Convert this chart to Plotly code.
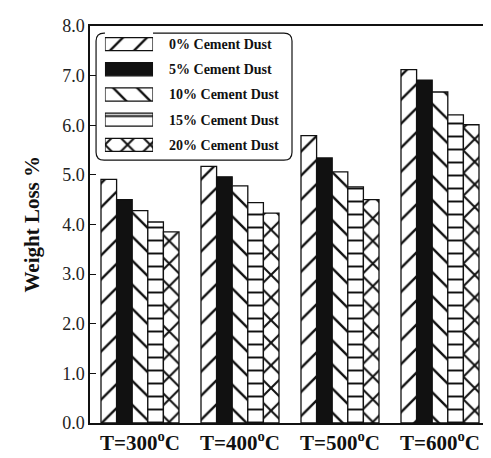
import plotly.graph_objects as go

categories = ["T=300<sup>o</sup>C", "T=400<sup>o</sup>C", "T=500<sup>o</sup>C", "T=600<sup>o</sup>C"]
series_names = ["0% Cement Dust", "5% Cement Dust", "10% Cement Dust", "15% Cement Dust", "20% Cement Dust"]
dust_0 = [4.91, 5.17, 5.79, 7.12]
dust_5 = [4.50, 4.96, 5.34, 6.91]
dust_10 = [4.28, 4.78, 5.06, 6.67]
dust_15 = [4.05, 4.44, 4.76, 6.21]
dust_20 = [3.85, 4.23, 4.50, 6.01]
y_ticks = [0, 1, 2, 3, 4, 5, 6, 7, 8]

series_values = [dust_0, dust_5, dust_10, dust_15, dust_20]
patterns = [
    dict(shape="/", size=17, solidity=0.14, fgcolor="#111", bgcolor="white", fgopacity=1),
    dict(shape="", fgcolor="#111", bgcolor="#111"),
    dict(shape="\\", size=17, solidity=0.14, fgcolor="#111", bgcolor="white", fgopacity=1),
    dict(shape="-", size=13, solidity=0.15, fgcolor="#111", bgcolor="white", fgopacity=1),
    dict(shape="x", size=16, solidity=0.24, fgcolor="#111", bgcolor="white", fgopacity=1),
]
colors = ["white", "#111", "white", "white", "white"]

serif = "Liberation Serif"
fig = go.Figure()
for i, (name, vals) in enumerate(zip(series_names, series_values)):
    fig.add_trace(go.Bar(
        x=categories, y=vals, name=name, showlegend=False,
        marker=dict(color=colors[i], pattern=patterns[i],
                    line=dict(color="#111", width=1.3)),
    ))
    # legend key patch drawn on a small inset axis
    fig.add_trace(go.Bar(
        x=[1], y=[name], orientation="h", xaxis="x2", yaxis="y2",
        showlegend=False, hoverinfo="skip",
        marker=dict(color=colors[i], pattern=patterns[i],
                    line=dict(color="#111", width=1.3)),
    ))

fig.update_layout(
    width=491, height=458,
    margin=dict(l=82, r=5, t=18, b=43),
    paper_bgcolor="white", plot_bgcolor="white",
    barmode="group", bargap=0.22, bargroupgap=0,
    font=dict(family=serif, color="#111"),
    xaxis=dict(range=[-0.5, 3.54], showline=True, linecolor="#111", linewidth=1.5,
               mirror=True, ticks="", showgrid=False, automargin=False,
               tickfont=dict(family=serif, size=21, color="#111", weight="bold")),
    yaxis=dict(range=[0, 8], tickvals=y_ticks, tickformat=".1f",
               showline=True, linecolor="#111", linewidth=1.5, mirror=True,
               ticks="inside", ticklen=6, tickwidth=1.3, tickcolor="#111",
               showgrid=False, zeroline=False, automargin=False,
               tickfont=dict(family=serif, size=18, color="#222")),
    xaxis2=dict(domain=[0.037, 0.156], anchor="y2", range=[0, 1],
                visible=False, fixedrange=True),
    yaxis2=dict(domain=[0.669, 0.986], anchor="x2", autorange="reversed",
                side="right", showline=False, showgrid=False, zeroline=False,
                ticks="", ticklabelstandoff=15, fixedrange=True, automargin=False,
                tickfont=dict(family=serif, size=14, color="#111", weight="bold")),
)
fig.update_traces(selector=dict(xaxis="x2"), width=0.52)

fig.add_annotation(text="<b>Weight Loss %</b>", textangle=-90, xref="paper", yref="paper",
                   x=0, y=0.5, xshift=-59, xanchor="center", yanchor="middle",
                   showarrow=False, font=dict(family=serif, size=21, color="#111"))

# rounded legend frame
x0, x1, y0, y1 = 0.015, 0.500, 0.662, 0.982
rx, ry = 0.02, 0.02
path = (f"M {x0+rx},{y1} L {x1-rx},{y1} Q {x1},{y1} {x1},{y1-ry} "
        f"L {x1},{y0+ry} Q {x1},{y0} {x1-rx},{y0} L {x0+rx},{y0} "
        f"Q {x0},{y0} {x0},{y0+ry} L {x0},{y1-ry} Q {x0},{y1} {x0+rx},{y1} Z")
fig.add_shape(type="path", path=path, xref="paper", yref="paper",
              line=dict(color="#111", width=1.2), fillcolor="white", layer="below")

fig.write_html("out.html")
